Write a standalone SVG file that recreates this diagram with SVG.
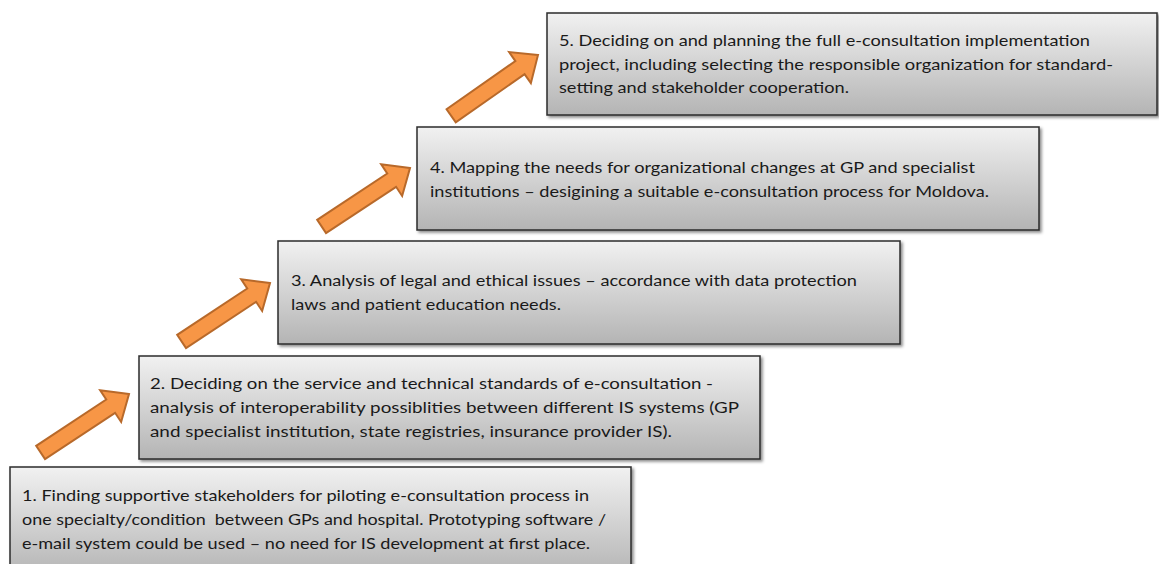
<svg xmlns="http://www.w3.org/2000/svg" width="1159" height="564" viewBox="0 0 1159 564">
<style>
.box{fill:url(#g);stroke:#2b2b2b;stroke-width:1.5;filter:url(#sh)}
.t{font-family:Lato,"Liberation Sans",Arial,sans-serif;font-size:16px;fill:#1a1a1a}
.arr{fill:#F79646;stroke:#B8692A;stroke-width:2;stroke-linejoin:miter}
</style>
<defs>
<linearGradient id="g" x1="0" y1="0" x2="0" y2="1">
<stop offset="0" stop-color="#f1f1f1"/>
<stop offset="1" stop-color="#b4b4b4"/>
</linearGradient>
<filter id="sh" x="-5%" y="-10%" width="110%" height="125%">
<feDropShadow dx="2" dy="2" stdDeviation="1.5" flood-color="#000" flood-opacity="0.45"/>
</filter>
<polygon id="ar" points="0,0 -22,-19 -22,-8 -106,-8 -106,8 -22,8 -22,19"/>
</defs>
<g id="connectors">
<use href="#ar" class="arr" transform="translate(129,394) rotate(-33.5)"/>
<use href="#ar" class="arr" transform="translate(270,283) rotate(-33.5)"/>
<use href="#ar" class="arr" transform="translate(410,168) rotate(-33.5)"/>
<use href="#ar" class="arr" transform="translate(538,55) rotate(-35)"/>
</g>
<g id="step1">
<rect class="box" x="10" y="467" width="621" height="110"/>
<text class="t" x="22" y="501" textLength="567" lengthAdjust="spacingAndGlyphs">1. Finding supportive stakeholders for piloting e-consultation process in</text>
<text class="t" x="22" y="525" textLength="584" lengthAdjust="spacingAndGlyphs" xml:space="preserve">one specialty/condition  between GPs and hospital. Prototyping software /</text>
<text class="t" x="22" y="549" textLength="568" lengthAdjust="spacingAndGlyphs">e-mail system could be used – no need for IS development at first place.</text>
</g>
<g id="step2">
<rect class="box" x="139" y="356" width="621" height="103"/>
<text class="t" x="150" y="389" textLength="563" lengthAdjust="spacingAndGlyphs">2. Deciding on the service and technical standards of e-consultation -</text>
<text class="t" x="150" y="413" textLength="589" lengthAdjust="spacingAndGlyphs">analysis of interoperability possiblities between different IS systems (GP</text>
<text class="t" x="150" y="437" textLength="522" lengthAdjust="spacingAndGlyphs">and specialist institution, state registries, insurance provider IS).</text>
</g>
<g id="step3">
<rect class="box" x="278" y="241" width="622" height="103"/>
<text class="t" x="291" y="286" textLength="566" lengthAdjust="spacingAndGlyphs">3. Analysis of legal and ethical issues – accordance with data protection</text>
<text class="t" x="291" y="310" textLength="270" lengthAdjust="spacingAndGlyphs">laws and patient education needs.</text>
</g>
<g id="step4">
<rect class="box" x="417" y="127" width="622" height="103"/>
<text class="t" x="430" y="173" textLength="545" lengthAdjust="spacingAndGlyphs">4. Mapping the needs for organizational changes at GP and specialist</text>
<text class="t" x="430" y="197" textLength="559" lengthAdjust="spacingAndGlyphs">institutions – desigining a suitable e-consultation process for Moldova.</text>
</g>
<g id="step5">
<rect class="box" x="547" y="13" width="610" height="102"/>
<text class="t" x="559" y="46" textLength="531" lengthAdjust="spacingAndGlyphs">5. Deciding on and planning the full e-consultation implementation</text>
<text class="t" x="559" y="70" textLength="554" lengthAdjust="spacingAndGlyphs">project, including selecting the responsible organization for standard-</text>
<text class="t" x="559" y="93" textLength="290" lengthAdjust="spacingAndGlyphs">setting and stakeholder cooperation.</text>
</g>
</svg>
